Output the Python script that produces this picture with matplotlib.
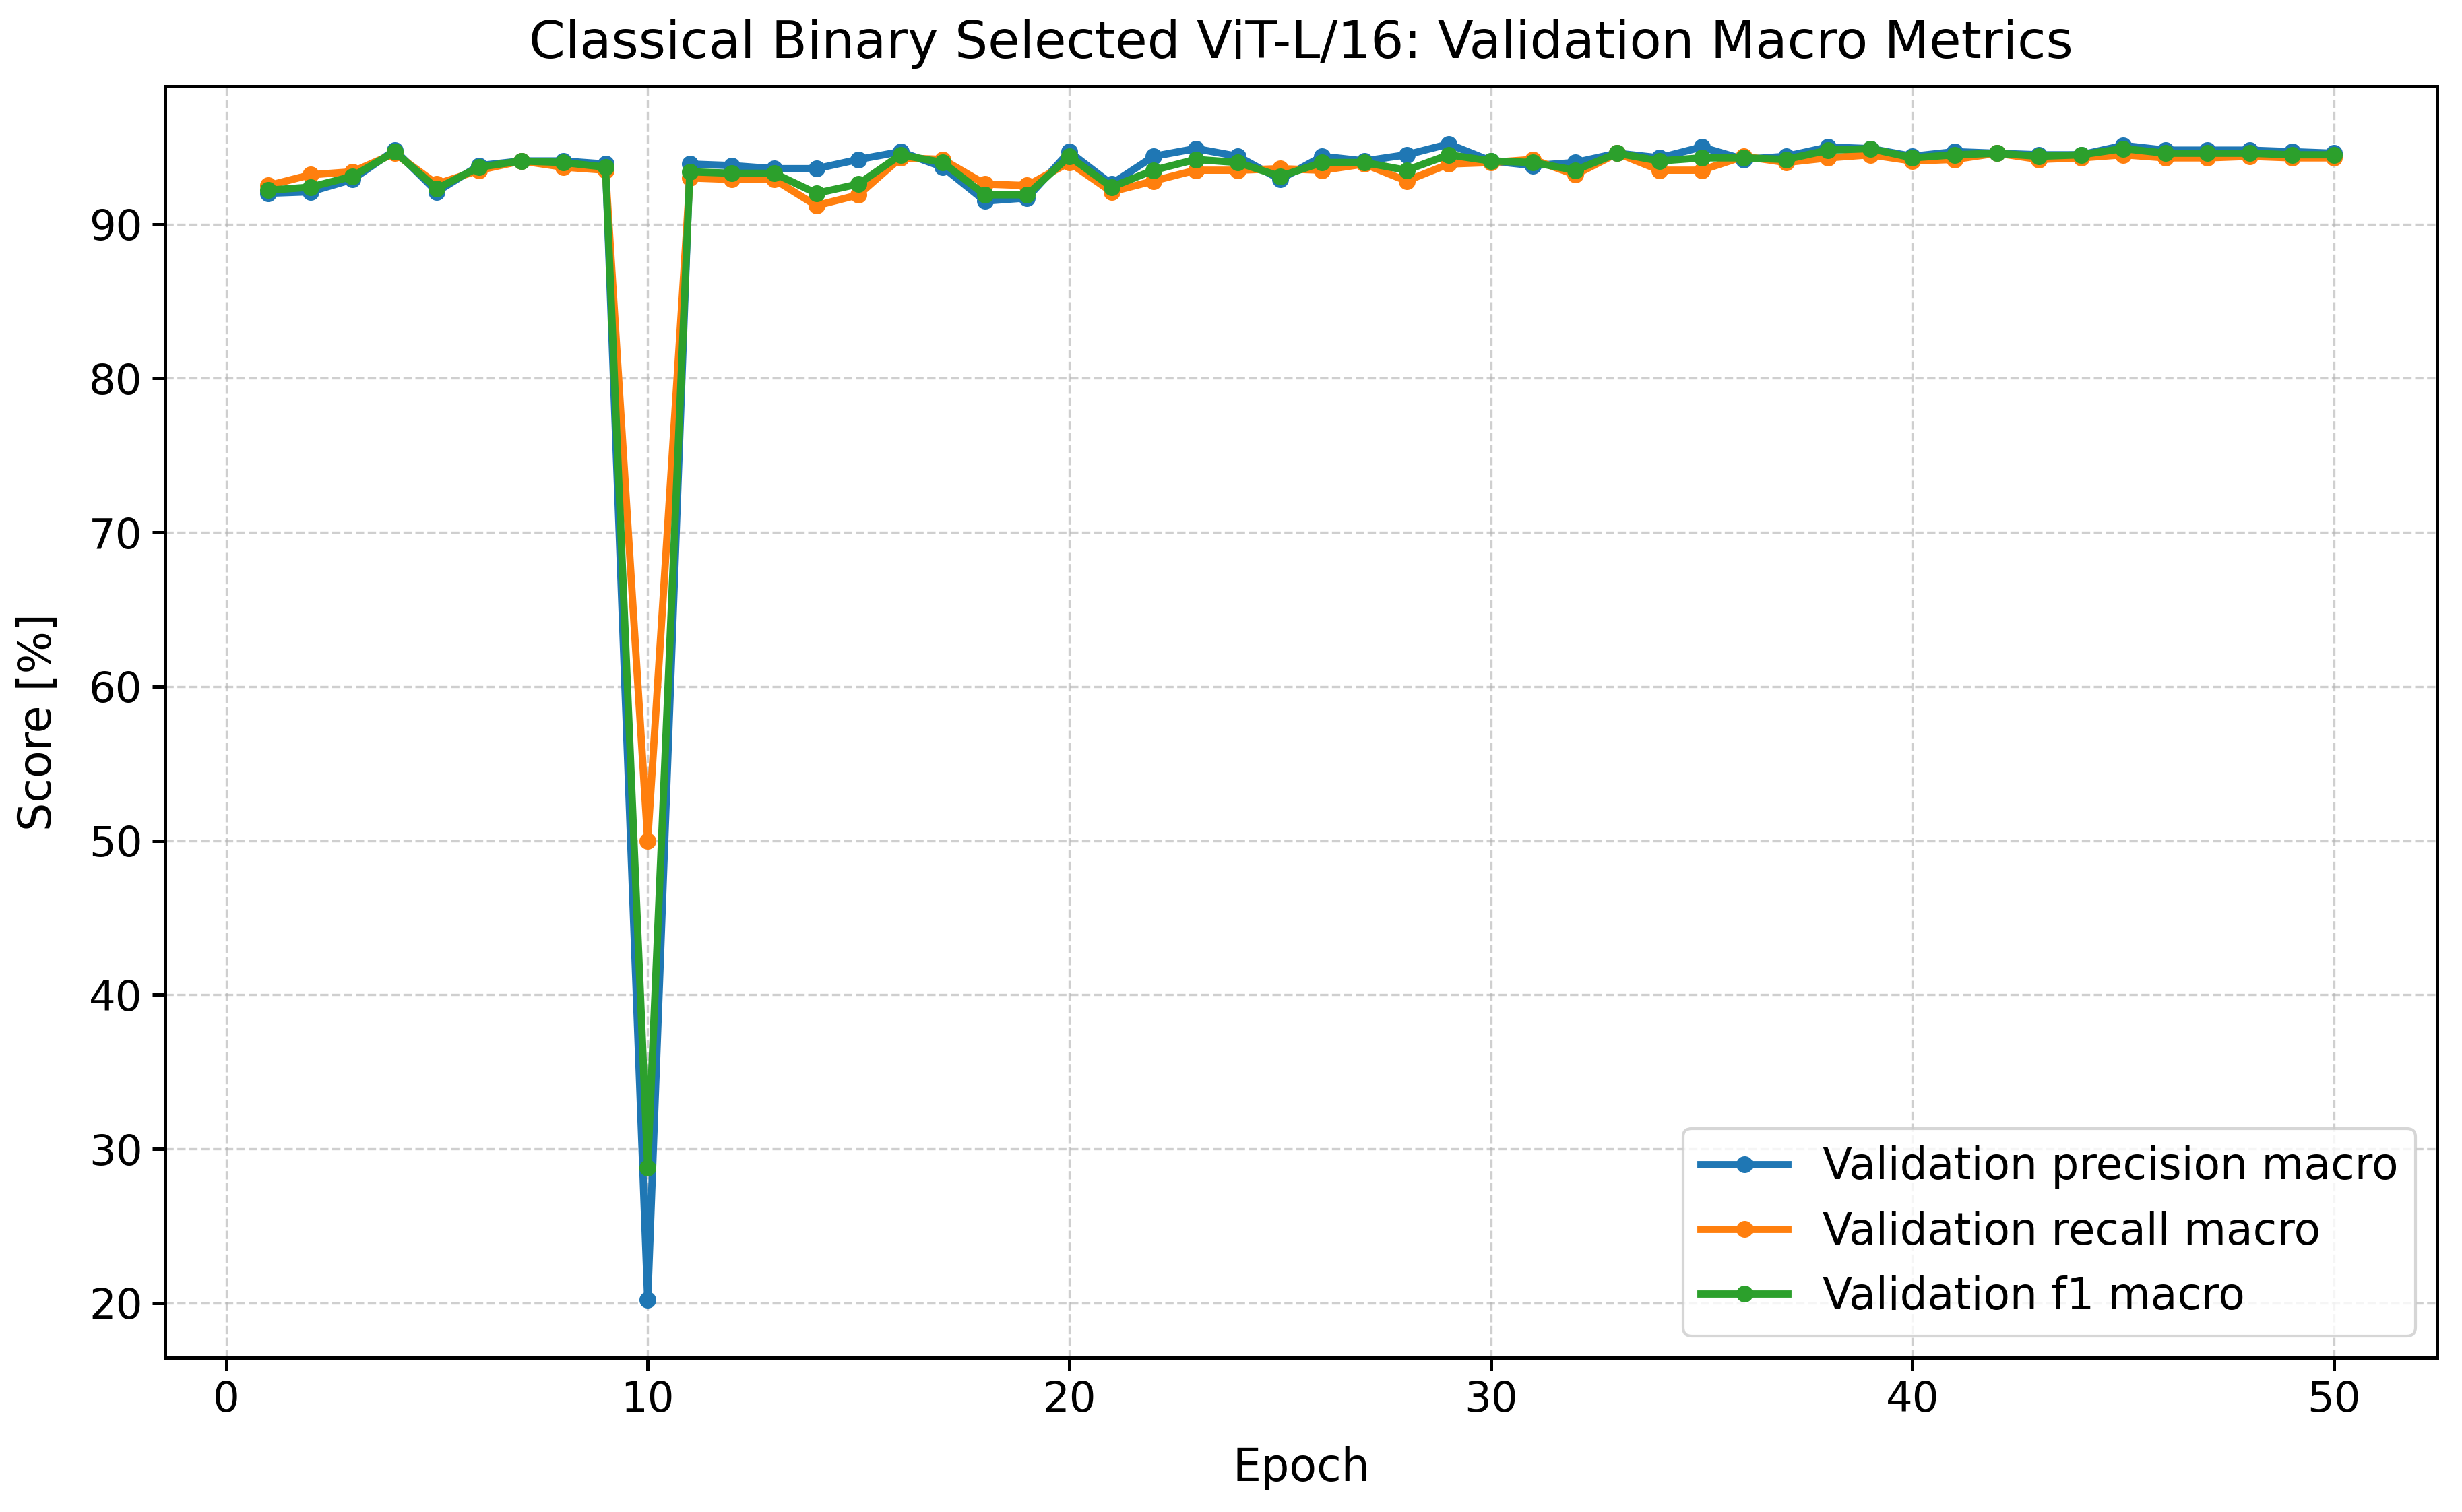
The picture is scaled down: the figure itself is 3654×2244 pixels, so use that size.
import numpy as np
import matplotlib
matplotlib.use("Agg")
from matplotlib import pyplot as plt

epochs = list(range(1, 51))

# validation macro metrics [%]
precision_macro = [
    92.0, 92.1, 92.9, 94.8, 92.1, 93.8, 94.1, 94.1, 93.9, 20.2,
    93.9, 93.8, 93.6, 93.6, 94.2, 94.7, 93.7, 91.5, 91.7, 94.7,
    92.6, 94.4, 94.9, 94.4, 92.9, 94.4, 94.1, 94.5, 95.2, 94.1,
    93.8, 94.0, 94.6, 94.3, 95.0, 94.2, 94.4, 95.0, 94.9, 94.4,
    94.7, 94.6, 94.5, 94.5, 95.1, 94.8, 94.8, 94.8, 94.7, 94.6,
]
recall_macro = [
    92.5, 93.2, 93.4, 94.6, 92.6, 93.5, 94.1, 93.7, 93.5, 50.0,
    93.0, 92.9, 92.9, 91.2, 91.9, 94.3, 94.2, 92.6, 92.5, 94.0,
    92.1, 92.8, 93.5, 93.5, 93.6, 93.5, 93.9, 92.8, 93.9, 94.0,
    94.2, 93.2, 94.6, 93.5, 93.5, 94.4, 94.0, 94.3, 94.5, 94.1,
    94.2, 94.6, 94.2, 94.3, 94.5, 94.3, 94.3, 94.4, 94.3, 94.3,
]
f1_macro = [
    92.2, 92.4, 93.1, 94.7, 92.3, 93.7, 94.1, 94.0, 93.7, 28.8,
    93.4, 93.3, 93.3, 92.0, 92.6, 94.5, 94.0, 91.9, 91.9, 94.4,
    92.4, 93.5, 94.2, 94.0, 93.1, 94.0, 94.0, 93.5, 94.5, 94.1,
    94.0, 93.5, 94.6, 94.1, 94.3, 94.3, 94.2, 94.8, 94.9, 94.3,
    94.5, 94.6, 94.4, 94.5, 94.9, 94.6, 94.6, 94.6, 94.5, 94.5,
]

plt.rcParams["axes.linewidth"] = 1.2
plt.rcParams["xtick.major.width"] = 1.2
plt.rcParams["ytick.major.width"] = 1.2
plt.rcParams["xtick.major.size"] = 4.5
plt.rcParams["ytick.major.size"] = 4.5

plt.figure(figsize=(12.18, 7.48))
plt.plot(epochs, precision_macro, marker="o", markersize=5, linewidth=2.6, label="Validation precision macro")
plt.plot(epochs, recall_macro, marker="o", markersize=5, linewidth=2.6, label="Validation recall macro")
plt.plot(epochs, f1_macro, marker="o", markersize=5, linewidth=2.6, label="Validation f1 macro")
plt.title("Classical Binary Selected ViT-L/16: Validation Macro Metrics", fontsize=18.5, pad=10)
plt.xlabel("Epoch", fontsize=16, labelpad=9)
plt.ylabel("Score [%]", fontsize=16, labelpad=10)
plt.xticks(fontsize=15)
plt.yticks(fontsize=15)
plt.grid(True, linestyle="--", alpha=0.6)
plt.legend(fontsize=15.5, loc="lower right")
plt.subplots_adjust(left=0.067, right=0.990, top=0.943, bottom=0.102)
plt.savefig("out.png", dpi=300)
